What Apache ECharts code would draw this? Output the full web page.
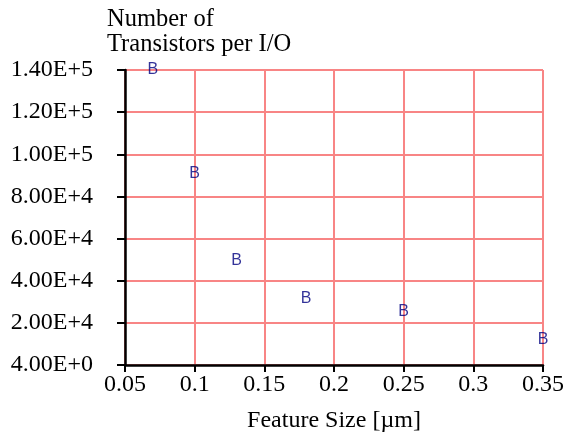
<!DOCTYPE html>
<html>
<head>
<meta charset="utf-8">
<script src="https://cdn.jsdelivr.net/npm/echarts@6/dist/echarts.min.js"></script>
<style>
    html, body { margin: 0; padding: 0; background: #fff; }
    #chart { width: 573px; height: 438px; }
</style>
</head>
<body>
<div id="chart"></div>
<script>
// feature size (um) vs transistors per I/O
const featureSize = [0.07, 0.1, 0.13, 0.18, 0.25, 0.35];
const transistors = [140000, 91000, 49500, 31500, 25500, 12000];
const yTickLabels = ['4.00E+0', '2.00E+4', '4.00E+4', '6.00E+4', '8.00E+4', '1.00E+5', '1.20E+5', '1.40E+5'];

const gridColor = '#f88585';
const serif = '"Liberation Serif", "Times New Roman", serif';

let myChart = echarts.init(document.getElementById('chart'));
let option = {
    animation: false,
    title: {
        text: 'Number of\nTransistors per I/O',
        left: 107,
        top: 7,
        padding: 0,
        textStyle: {
            fontFamily: serif,
            fontSize: 24.5,
            fontWeight: 'normal',
            color: '#000',
            lineHeight: 25
        }
    },
    grid: {
        left: 125,
        right: 30,
        top: 70,
        bottom: 72
    },
    xAxis: {
        type: 'value',
        min: 0.05,
        max: 0.35,
        interval: 0.05,
        name: 'Feature Size [µm]',
        nameLocation: 'middle',
        nameGap: 44,
        nameTextStyle: { fontFamily: serif, fontSize: 24, color: '#000' },
        axisLine: { show: true, lineStyle: { color: '#000', width: 2.5 } },
        axisTick: { show: true, length: 7, lineStyle: { color: '#000', width: 2 } },
        axisLabel: {
            margin: 8,
            fontFamily: serif,
            fontSize: 24,
            color: '#000',
            formatter: v => String(+v.toFixed(2))
        },
        splitLine: { show: true, lineStyle: { color: gridColor, width: 2 } }
    },
    yAxis: {
        type: 'value',
        min: 0,
        max: 140000,
        interval: 20000,
        axisLine: { show: true, lineStyle: { color: '#000', width: 2.5 } },
        axisTick: { show: true, length: 8, lineStyle: { color: '#000', width: 2 } },
        axisLabel: {
            margin: 32,
            fontFamily: serif,
            fontSize: 24,
            color: '#000',
            formatter: v => yTickLabels[Math.round(v / 20000)]
        },
        splitLine: { show: true, lineStyle: { color: gridColor, width: 2 } }
    },
    series: [{
        type: 'scatter',
        data: featureSize.map((x, i) => [x, transistors[i]]),
        symbol: 'circle',
        symbolSize: 1,
        itemStyle: { color: 'rgba(0,0,0,0)' },
        clip: false,
        label: {
            show: true,
            position: 'inside',
            formatter: 'B',
            fontFamily: '"Liberation Sans", Arial, sans-serif',
            fontSize: 16,
            textBorderWidth: 0,
            color: '#000080'
        }
    }]
};
myChart.setOption(option, true);
</script>
</body>
</html>
